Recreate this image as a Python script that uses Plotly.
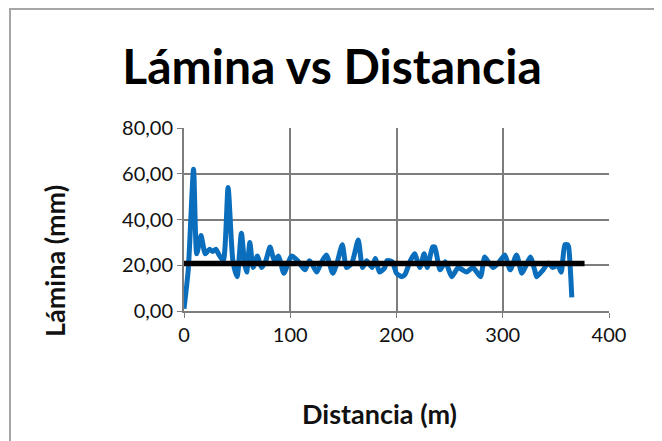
import plotly.graph_objects as go

distancia = [0, 4, 9, 12, 16, 20, 24, 27, 30, 33, 37, 41.5, 46, 50, 54, 57, 59, 62, 65, 69,
             73, 77, 81, 85, 89, 94, 101, 107, 110, 114, 118, 120, 125, 129, 134, 140, 144,
             149, 153, 158, 164, 168, 172, 177, 180, 184, 189, 191, 196, 200, 205, 208, 213,
             217, 222, 226, 229, 234, 236, 241, 246, 252, 258, 262, 266, 272, 279, 283, 287,
             291, 296, 302, 307, 313, 318, 322, 326, 330, 332, 338, 343, 347, 352, 355, 358.5,
             361, 362, 365]
lamina = [1, 18, 62, 25, 33, 25, 27, 26, 27, 24.5, 22, 54, 22, 15, 34, 21, 17, 30, 19, 24,
          19, 22, 28, 22, 24, 16.5, 24, 22, 20, 18, 22, 21, 17, 21, 24.5, 16.5, 21,
          29, 19, 21, 31, 19, 22, 19, 23, 17, 19, 22, 21.5, 16.5, 15, 16, 22,
          25, 19, 25, 19, 28, 28, 18, 21.5, 15, 19, 18, 17, 19, 15, 23.6, 21,
          19, 21, 24.5, 18, 24.5, 16.5, 20, 23.6, 18, 15, 18, 21, 19, 20, 17, 29,
          29, 28, 6]

ref_x = [0, 377]
ref_y = [20.8, 20.8]

x_ticks = [0, 100, 200, 300, 400]
y_ticks = [0, 20, 40, 60, 80]

FONT = "Lato"
GRID = "#7d7d7d"

# page body has an 8px margin; figure sized to fit inside the 662x441 window
W, H = 654, 433
OFF = 8
L, R, T, B = 184 - OFF, 53, 128 - OFF, 130
PW, PH = W - L - R, H - T - B


def px_to_paper_x(px):
    return (px - 184) / PW


def px_to_paper_y(py):
    return (311 - py) / PH


fig = go.Figure()
fig.add_trace(go.Scatter(x=distancia, y=lamina, mode="lines",
                         line=dict(color="#0a6ebd", width=5, shape="spline", smoothing=0.6),
                         showlegend=False))
fig.add_trace(go.Scatter(x=ref_x, y=ref_y, mode="lines",
                         line=dict(color="#000000", width=5.5), showlegend=False))

fig.update_layout(
    width=W, height=H,
    margin=dict(l=L, r=R, t=T, b=B),
    paper_bgcolor="white", plot_bgcolor="white",
    separators=",.",
    font=dict(family=FONT, color="#111111"),
    title=dict(text="<b>Lámina vs Distancia</b>", font=dict(family=FONT, size=48, color="#000000"),
               x=(332 - OFF) / W, xref="container", xanchor="center",
               y=1 - (67 - OFF) / H, yref="container", yanchor="middle"),
    shapes=[dict(type="rect", xref="paper", yref="paper",
                 x0=px_to_paper_x(10), x1=px_to_paper_x(660),
                 y0=px_to_paper_y(445), y1=px_to_paper_y(9),
                 line=dict(color="#a6a6a6", width=2), layer="below")],
    annotations=[
        dict(text="<b>Distancia (m)</b>", xref="paper", yref="paper",
             x=px_to_paper_x(379), y=px_to_paper_y(413), xanchor="center", yanchor="middle",
             showarrow=False, font=dict(family=FONT, size=27, color="#111111")),
        dict(text="<b>Lámina (mm)</b>", xref="paper", yref="paper", textangle=-90,
             x=px_to_paper_x(55), y=px_to_paper_y(261), xanchor="center", yanchor="middle",
             showarrow=False, font=dict(family=FONT, size=27, color="#111111")),
    ],
)
fig.update_xaxes(range=[0, 400], tickvals=x_ticks, showgrid=True, gridcolor=GRID, gridwidth=2,
                 showline=True, linecolor=GRID, linewidth=2, ticks="outside", ticklen=5,
                 tickcolor=GRID, zeroline=False, tickfont=dict(size=20, color="#111111"))
fig.update_yaxes(range=[0, 80], tickvals=y_ticks, tickformat=".2f", showgrid=True, gridcolor=GRID,
                 gridwidth=2, showline=True, linecolor=GRID, linewidth=2, ticks="outside",
                 ticklen=5, tickcolor=GRID, zeroline=False, tickfont=dict(size=20, color="#111111"))

fig.write_html("out.html")
